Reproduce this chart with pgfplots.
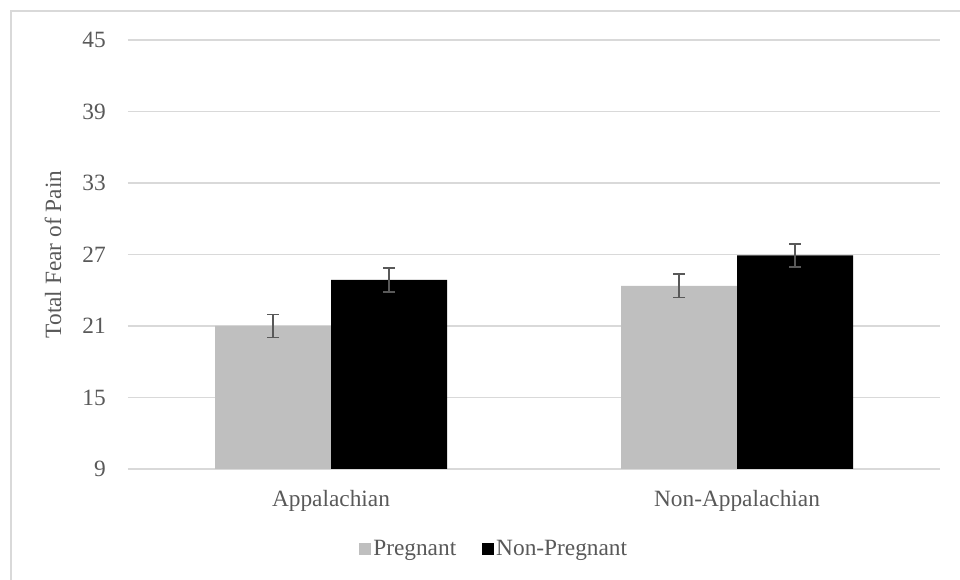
\documentclass[border=0pt]{standalone}
\usepackage{pgfplots}
\pgfplotsset{compat=1.18}
\usepackage{fontspec}
\setmainfont{Liberation Serif}

\definecolor{gridgray}{HTML}{D9D9D9}
\definecolor{txtgray}{HTML}{595959}
\definecolor{preg}{HTML}{BFBFBF}

\begin{document}
\begin{tikzpicture}
	\path[use as bounding box] (0,0) rectangle (720pt,435pt);
	\draw[gridgray, line width=1.2pt] (8.25pt,0) -- (8.25pt,426.75pt) -- (720pt,426.75pt);
	\begin{axis}[
	at={(96pt,83.25pt)}, anchor=south west,
	scale only axis,
	width=609pt, height=321.75pt,
	xmin=-0.5, xmax=1.5,
	ymin=9, ymax=45,
	ytick={9,15,21,27,33,39,45},
	xtick={0,1},
	xticklabels={Appalachian,Non-Appalachian},
	ymajorgrids,
	grid style={gridgray, line width=1.2pt},
	axis line style={draw=none},
	major tick length=0pt,
	/pgf/number format/assume math mode=true,
	tick label style={font=\fontsize{17.5}{21}\selectfont, text=txtgray},
	yticklabel style={anchor=east, inner sep=0pt, xshift=-16.5pt},
	xticklabel style={anchor=base, inner sep=0pt, yshift=-28.5pt},
	ylabel=Total Fear of Pain,
	every axis y label/.style={at={(axis description cs:-0.0924,0.5)}, rotate=90, anchor=center,
		font=\fontsize{17.5}{21}\selectfont, text=txtgray},
	ybar=0pt, bar width=87pt,
	legend columns=2,
	legend style={draw=none, at={(axis description cs:0.451,-0.1865)}, anchor=center,
		font=\fontsize{17.5}{21}\selectfont, text=txtgray,
		/tikz/every even column/.append style={column sep=17pt}},
	legend image code/.code={\fill[#1] (-2pt,-4.5pt) rectangle (7pt,4.5pt);},
	error bars/error bar style={txtgray, line width=1.2pt},
	error bars/error mark options={txtgray, line width=1.2pt, mark size=4.5pt, rotate=90},
	]
		\addplot[fill=preg, draw=none, error bars/.cd, y dir=both, y explicit] coordinates {
			(0, 21.0) +- (0, 0.95)
			(1, 24.37) +- (0, 0.98)
		};
		\addplot[fill=black, draw=none, error bars/.cd, y dir=both, y explicit] coordinates {
			(0, 24.87) +- (0, 1.0)
			(1, 26.92) +- (0, 0.98)
		};
		\legend{Pregnant, Non-Pregnant}
	\end{axis}
\end{tikzpicture}
\end{document}
